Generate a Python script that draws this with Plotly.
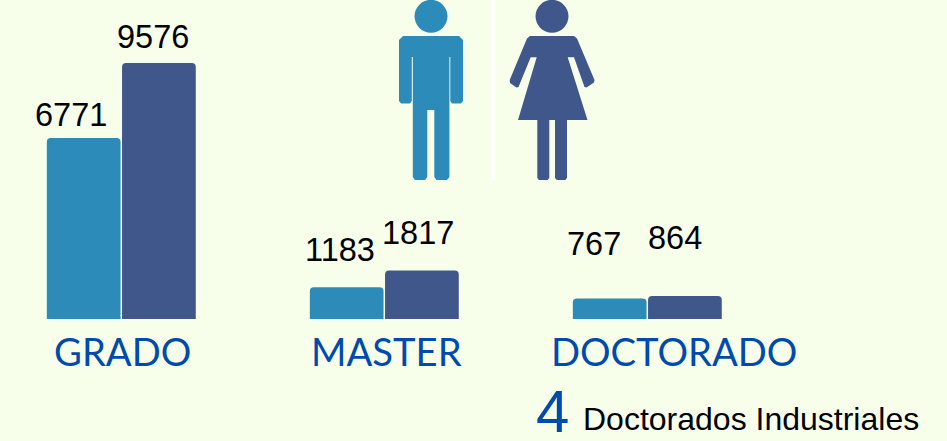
import plotly.graph_objects as go

categories = ["GRADO", "MASTER", "DOCTORADO"]
men = [6771, 1183, 767]
women = [9576, 1817, 864]

BG = "#F7FFEB"
BLUE = "#2D8BBA"
NAVY = "#40578B"
LABEL = "#004AAD"
W, H = 947, 441
BASE = 319
PX_PER_UNIT = 256 / 9576
CAT_PX = 263
CAT0 = 121.3

# label offsets (px) relative to the bar centre / top
men_dx = [-13, -7, -16]
men_dy = [23, 37, 55]
women_dx = [-6, -4, -10]
women_dy = [26, 37, 58]
cat_dx = [1, 2, 27]

fig = go.Figure()
for name, vals, col in [("Hombres", men, BLUE), ("Mujeres", women, NAVY)]:
    fig.add_bar(x=categories, y=vals, name=name, marker=dict(color=col, line_width=0))

def px(x):
    return x / W

def py(y):
    return 1 - y / H

def path(points):
    return "M " + " L ".join(f"{px(x):.5f},{py(y):.5f}" for x, y in points) + " Z"

annotations = []
half = 37.7
for i, cat in enumerate(categories):
    annotations.append(dict(x=i, y=men[i], xref="x", yref="y", text=str(men[i]), showarrow=False,
                            xanchor="center", yanchor="middle",
                            xshift=-half + men_dx[i], yshift=men_dy[i],
                            font=dict(family="Liberation Sans", size=32.5, color="black")))
    annotations.append(dict(x=i, y=women[i], xref="x", yref="y", text=str(women[i]), showarrow=False,
                            xanchor="center", yanchor="middle",
                            xshift=half + women_dx[i], yshift=women_dy[i],
                            font=dict(family="Liberation Sans", size=32.5, color="black")))
    annotations.append(dict(x=i, y=0, xref="x", yref="y", text=cat, showarrow=False,
                            xanchor="center", yanchor="middle",
                            xshift=cat_dx[i], yshift=-32,
                            font=dict(family="Lato", size=38.2, color=LABEL)))

annotations.append(dict(x=px(552), y=py(411), xref="paper", yref="paper", text="4", showarrow=False,
                        xanchor="center", yanchor="middle",
                        font=dict(family="Liberation Sans", size=60, color=LABEL)))
annotations.append(dict(x=px(750.5), y=py(419), xref="paper", yref="paper", text="Doctorados Industriales",
                        showarrow=False, xanchor="center", yanchor="middle",
                        font=dict(family="Liberation Sans", size=32, color="black")))

shapes = []
def poly(points, color):
    shapes.append(dict(type="path", xref="paper", yref="paper", path=path(points),
                       fillcolor=color, line=dict(width=0), layer="above"))

def head(cx, cy, r, color):
    shapes.append(dict(type="circle", xref="paper", yref="paper", x0=px(cx - r), x1=px(cx + r),
                       y0=py(cy + r), y1=py(cy - r), fillcolor=color, line=dict(width=0)))

# divider
poly([(491.5, 0), (494.5, 0), (494.5, 180), (491.5, 180)], "#FFFFFF")

# man
head(431, 16.3, 16.5, BLUE)
poly([(403, 36), (459, 36), (463, 40), (463, 101), (461, 103.5), (452, 103.5), (450.3, 101), (450.3, 57),
      (449.4, 57), (449.4, 177), (447, 180), (436.5, 180), (434.3, 177), (434.3, 110), (427.3, 110),
      (427.3, 177), (425, 180), (415, 180), (412.8, 177), (412.8, 57), (411.8, 57), (411.8, 101),
      (410, 103.5), (401, 103.5), (399, 101), (399, 40)], BLUE)

# woman
head(552, 16.3, 16.5, NAVY)
poly([(530, 36), (574, 36), (577, 38.5), (594.5, 80), (594, 82.5), (586.5, 87.5), (584.5, 87), (574, 57.3),
      (567.7, 57.3), (587.5, 120), (518, 120), (536.7, 57.3), (530.7, 57.3), (518.5, 87), (516.5, 87.5),
      (510, 83), (509.7, 80), (527, 38.5)], NAVY)
poly([(537.3, 120), (549.3, 120), (549.3, 178), (547.5, 180), (539, 180), (537.3, 178)], NAVY)
poly([(555, 120), (567, 120), (567, 178), (565.3, 180), (556.8, 180), (555, 178)], NAVY)

fig.update_layout(
    width=W, height=H,
    margin=dict(l=0, r=0, t=0, b=0),
    paper_bgcolor=BG, plot_bgcolor=BG,
    barmode="group", bargap=0.428, bargroupgap=0.02, barcornerradius=4,
    showlegend=False,
    annotations=annotations, shapes=shapes,
    xaxis=dict(type="category", categoryorder="array", categoryarray=categories,
               range=[-CAT0 / CAT_PX, (W - CAT0) / CAT_PX], visible=False),
    yaxis=dict(range=[-(H - BASE) / PX_PER_UNIT, BASE / PX_PER_UNIT], visible=False),
)
fig.write_html("out.html", config=dict(displayModeBar=False),
               post_script="document.body.style.margin='0';document.documentElement.style.overflow='hidden';")
